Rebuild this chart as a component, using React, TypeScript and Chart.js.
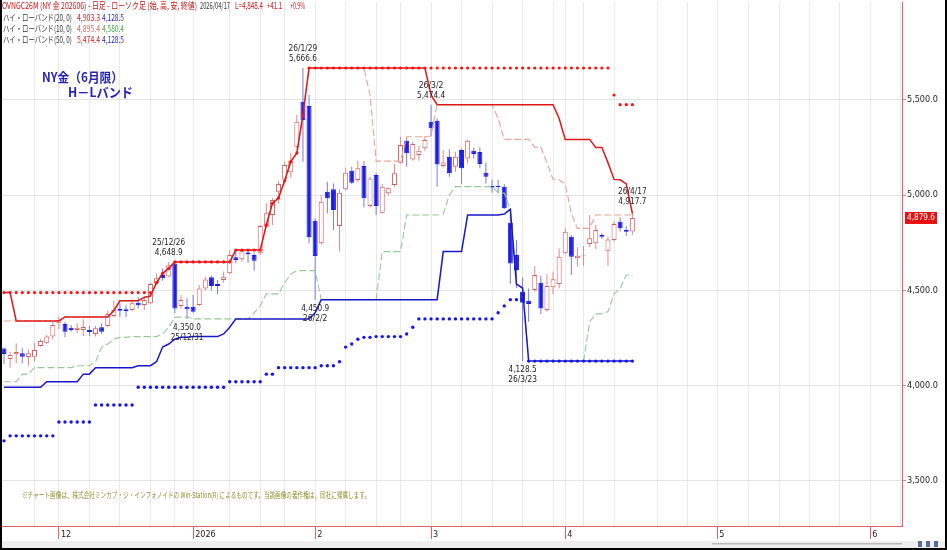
import React, { useEffect, useRef } from 'react';
import { Chart, registerables } from 'chart.js';

Chart.register(...registerables);

// ---------------- data (daily bars, index 0 = 2025/11/17 ... 103 = 2026/04/17) ----------------
const openP = [
  4195, 4140, 4164, 4169, 4150, 4151, 4208, 4225, 4257, 4327,
  4323, 4304, 4292, 4292, 4292, 4271, 4306, 4313, 4365, 4403,
  4400, 4397, 4435, 4423, 4432, 4537, 4580, 4572, 4640, 4418,
  4414, 4414, 4423, 4510, 4568, 4533, 4554, 4589, 4673, 4663,
  4699, 4685, 4694, 4834, 4895, 5017, 5082, 5120, 5253, 5490,
  5467, 4865, 4747, 5017, 5030, 4837, 5030, 5127, 5079, 5152,
  4942, 5105, 4907, 5009, 5052, 5170, 5285, 5187, 5210, 5245,
  5385, 5390, 5152, 5201, 5149, 5236, 5192, 5232, 5226, 5117,
  5047, 5047, 5044, 4855, 4685, 4493, 4445, 4501, 4540, 4397,
  4516, 4533, 4694, 4781, 4668, 4679, 4743, 4747, 4790, 4708,
  4764, 4860, 4816, 4809,
];
const highP = [
  4200, 4178, 4222, 4196, 4190, 4223, 4244, 4265, 4335, 4360,
  4335, 4318, 4327, 4348, 4313, 4313, 4327, 4393, 4445, 4432,
  4420, 4445, 4463, 4470, 4540, 4589, 4615, 4648.9, 4645, 4475,
  4458, 4475, 4528, 4571, 4577, 4554, 4598, 4711, 4711, 4708,
  4711, 4697, 4843, 4956, 4985, 5075, 5175, 5220, 5420, 5666.6,
  5525, 4878, 5000, 5070, 5061, 5030, 5140, 5149, 5178, 5178,
  5096, 5114, 5058, 5040, 5163, 5306, 5303, 5280, 5257, 5310,
  5474.4, 5402, 5236, 5240, 5227, 5245, 5292, 5250, 5250, 5170,
  5082, 5080, 5058, 4903.3, 4764, 4568, 4510, 4627, 4575, 4585,
  4598, 4720, 4825, 4790, 4726, 4732, 4895.4, 4843, 4800, 4781,
  4860, 4883, 4837, 4917.7,
];
const lowP = [
  4113, 4094, 4119, 4119, 4104, 4125, 4202, 4218, 4243, 4297,
  4253, 4283, 4274, 4260, 4260, 4257, 4271, 4306, 4358, 4361,
  4360, 4390, 4405, 4397, 4428, 4528, 4550, 4568, 4380, 4405,
  4350, 4382, 4418, 4500, 4500, 4481, 4540, 4585, 4642, 4650,
  4645, 4603, 4685, 4825, 4843, 4956, 5061, 5090, 5245, 5175,
  4747, 4450.9, 4738, 4904, 4816, 4703, 5023, 5058, 5070, 4935,
  4935, 4895, 4900, 5000, 5044, 5166, 5149, 5180, 5180, 5232,
  5310, 5044, 5145, 5096, 5122, 5058, 5166, 5192, 5140, 5061,
  5012, 5010, 4925, 4533, 4512, 4128.5, 4335, 4493, 4376, 4388,
  4481, 4510, 4690, 4580.4, 4624, 4627, 4726, 4715, 4770, 4627,
  4755, 4808, 4785, 4790,
];
const closeP = [
  4166, 4160, 4176, 4151, 4170, 4187, 4234, 4257, 4318, 4344,
  4283, 4292, 4304, 4308, 4281, 4301, 4283, 4376, 4397, 4393,
  4390, 4432, 4421, 4449, 4533, 4563, 4563, 4632, 4405, 4449,
  4400, 4388, 4510, 4557, 4523, 4523, 4571, 4685, 4659, 4705,
  4689, 4655, 4837, 4904, 4974, 5058, 5157, 5180, 5385, 5394,
  4778, 4680, 4965, 4983, 4921, 5012, 5117, 5065, 5140, 4983,
  5087, 4942, 5044, 5035, 5114, 5262, 5219, 5268, 5232, 5289,
  5350, 5160, 5171, 5114, 5201, 5140, 5285, 5215, 5163, 5096,
  5040, 5042, 4930, 4640, 4606, 4435, 4428, 4580, 4405, 4523,
  4558, 4676, 4807, 4676, 4681, 4682, 4773, 4816, 4781, 4767,
  4848, 4825, 4807.3, 4879.6,
];

// High-Low band (20, 0)
const hiBand20 = [
  4488, 4488, 4339, 4339, 4339, 4339, 4339, 4339, 4339, 4339,
  4360, 4360, 4360, 4360, 4360, 4360, 4360, 4360, 4393, 4445,
  4445, 4445, 4445, 4463, 4470, 4540, 4589, 4615, 4648.9, 4648.9,
  4648.9, 4648.9, 4648.9, 4648.9, 4648.9, 4648.9, 4648.9, 4648.9, 4711, 4711,
  4711, 4711, 4711, 4843, 4956, 4985, 5075, 5175, 5220, 5420,
  5666.6, 5666.6, 5666.6, 5666.6, 5666.6, 5666.6, 5666.6, 5666.6, 5666.6, 5666.6,
  5666.6, 5666.6, 5666.6, 5666.6, 5666.6, 5666.6, 5666.6, 5666.6, 5666.6, 5666.6,
  5525, 5474.4, 5474.4, 5474.4, 5474.4, 5474.4, 5474.4, 5474.4, 5474.4, 5474.4,
  5474.4, 5474.4, 5474.4, 5474.4, 5474.4, 5474.4, 5474.4, 5474.4, 5474.4, 5474.4,
  5474.4, 5402, 5292, 5292, 5292, 5292, 5292, 5250, 5250, 5170,
  5082, 5080, 5058, 4903.3,
];
const loBand20 = [
  3991, 3991, 3991, 3991, 3991, 3991, 3991, 4020, 4020, 4020,
  4020, 4020, 4020, 4060, 4060, 4094, 4094, 4094, 4094, 4094,
  4094, 4094, 4104, 4104, 4104, 4125, 4202, 4218, 4243, 4253,
  4253, 4257, 4257, 4257, 4257, 4257, 4271, 4306, 4350, 4350,
  4350, 4350, 4350, 4350, 4350, 4350, 4350, 4350, 4350, 4350,
  4350, 4382, 4450.9, 4450.9, 4450.9, 4450.9, 4450.9, 4450.9, 4450.9, 4450.9,
  4450.9, 4450.9, 4450.9, 4450.9, 4450.9, 4450.9, 4450.9, 4450.9, 4450.9, 4450.9,
  4450.9, 4450.9, 4703, 4703, 4703, 4703, 4895, 4895, 4895, 4895,
  4895, 4895, 4900, 4925, 4533, 4512, 4128.5, 4128.5, 4128.5, 4128.5,
  4128.5, 4128.5, 4128.5, 4128.5, 4128.5, 4128.5, 4128.5, 4128.5, 4128.5, 4128.5,
  4128.5, 4128.5, 4128.5, 4128.5,
];
// High-Low band (10, 0)
const hiBand10 = [
  4339, 4339, 4339, 4339, 4339, 4339, 4339, 4339, 4339, 4339,
  4360, 4360, 4360, 4360, 4360, 4360, 4360, 4360, 4393, 4445,
  4445, 4445, 4445, 4463, 4470, 4540, 4589, 4615, 4648.9, 4648.9,
  4648.9, 4648.9, 4648.9, 4648.9, 4648.9, 4648.9, 4648.9, 4648.9, 4711, 4711,
  4711, 4711, 4711, 4843, 4956, 4985, 5075, 5175, 5220, 5420,
  5666.6, 5666.6, 5666.6, 5666.6, 5666.6, 5666.6, 5666.6, 5666.6, 5666.6, 5666.6,
  5525, 5178, 5178, 5178, 5178, 5178, 5306, 5306, 5306, 5306,
  5310, 5474.4, 5474.4, 5474.4, 5474.4, 5474.4, 5474.4, 5474.4, 5474.4, 5474.4,
  5474.4, 5402, 5292, 5292, 5292, 5292, 5292, 5250, 5250, 5170,
  5082, 5080, 5058, 4903.3, 4825, 4825, 4825, 4895.4, 4895.4, 4895.4,
  4895.4, 4895.4, 4895.4, 4895.4,
];
const loBand10 = [
  4020, 4020, 4020, 4060, 4060, 4094, 4094, 4094, 4094, 4094,
  4094, 4094, 4104, 4104, 4104, 4125, 4202, 4218, 4243, 4253,
  4253, 4257, 4257, 4257, 4257, 4257, 4271, 4306, 4358, 4360,
  4360, 4350, 4350, 4350, 4350, 4350, 4350, 4350, 4350, 4350,
  4350, 4382, 4418, 4481, 4481, 4481, 4540, 4585, 4603, 4603,
  4603, 4603, 4450.9, 4450.9, 4450.9, 4450.9, 4450.9, 4450.9, 4450.9, 4450.9,
  4450.9, 4450.9, 4703, 4703, 4703, 4703, 4895, 4895, 4895, 4895,
  4895, 4895, 4900, 5000, 5044, 5044, 5044, 5044, 5044, 5044,
  5044, 5012, 5010, 4925, 4533, 4512, 4128.5, 4128.5, 4128.5, 4128.5,
  4128.5, 4128.5, 4128.5, 4128.5, 4128.5, 4128.5, 4335, 4376, 4376, 4388,
  4481, 4510, 4580.4, 4580.4,
];
// High-Low band (50, 0)
const hiBand50 = [
  4488, 4488, 4488, 4488, 4488, 4488, 4488, 4488, 4488, 4488,
  4488, 4488, 4488, 4488, 4488, 4488, 4488, 4488, 4488, 4488,
  4488, 4488, 4488, 4488, 4488, 4540, 4589, 4615, 4648.9, 4648.9,
  4648.9, 4648.9, 4648.9, 4648.9, 4648.9, 4648.9, 4648.9, 4648.9, 4711, 4711,
  4711, 4711, 4711, 4843, 4956, 4985, 5075, 5175, 5220, 5420,
  5666.6, 5666.6, 5666.6, 5666.6, 5666.6, 5666.6, 5666.6, 5666.6, 5666.6, 5666.6,
  5666.6, 5666.6, 5666.6, 5666.6, 5666.6, 5666.6, 5666.6, 5666.6, 5666.6, 5666.6,
  5666.6, 5666.6, 5666.6, 5666.6, 5666.6, 5666.6, 5666.6, 5666.6, 5666.6, 5666.6,
  5666.6, 5666.6, 5666.6, 5666.6, 5666.6, 5666.6, 5666.6, 5666.6, 5666.6, 5666.6,
  5666.6, 5666.6, 5666.6, 5666.6, 5666.6, 5666.6, 5666.6, 5666.6, 5666.6, 5666.6,
  5525, 5474.4, 5474.4, 5474.4,
];
const loBand50 = [
  3710, 3736, 3736, 3736, 3736, 3736, 3736, 3736, 3736, 3809,
  3809, 3809, 3809, 3809, 3809, 3898, 3898, 3898, 3898, 3898,
  3898, 3898, 3991, 3991, 3991, 3991, 3991, 3991, 3991, 3991,
  3991, 3991, 3991, 3991, 3991, 3991, 3991, 4020, 4020, 4020,
  4020, 4020, 4020, 4060, 4060, 4094, 4094, 4094, 4094, 4094,
  4094, 4094, 4104, 4104, 4104, 4125, 4202, 4218, 4243, 4253,
  4253, 4257, 4257, 4257, 4257, 4257, 4271, 4306, 4350, 4350,
  4350, 4350, 4350, 4350, 4350, 4350, 4350, 4350, 4350, 4350,
  4350, 4382, 4418, 4450.9, 4450.9, 4450.9, 4128.5, 4128.5, 4128.5, 4128.5,
  4128.5, 4128.5, 4128.5, 4128.5, 4128.5, 4128.5, 4128.5, 4128.5, 4128.5, 4128.5,
  4128.5, 4128.5, 4128.5, 4128.5,
];

// axis ticks (x in bar-index units)
const yTicks = [3500, 4000, 4500, 5000, 5500];
const xTickPos = [5, 9, 14, 19, 24, 28, 31, 37, 42, 46, 51, 56, 61, 65, 70, 75, 80, 85, 90, 92, 95, 100,
  107.2, 112.1, 116.9, 122, 127.1, 132, 137, 142, 146.9];
const xTickLabels = ['', '12', '', '', '', '', '2026', '', '', '', '2', '', '', '', '3', '', '', '', '', '4', '', '',
  '', '', '5', '', '', '', '', '6', ''];

// labelled extremes
const annIdx = [27, 49, 70, 103, 30, 51, 85];
const annDate = ['25/12/26', '26/1/29', '26/3/2', '26/4/17', '25/12/31', '26/2/2', '26/3/23'];
const annSide = ['high', 'high', 'high', 'high', 'low', 'low', 'low'];

const lastPrice = 4879.6;

const COND = "'DejaVu Sans Condensed', 'Liberation Sans Narrow', 'DejaVu Sans', sans-serif";
const JP = "'Noto Sans CJK JP', 'Noto Sans', sans-serif";

const fmt = (v: number) =>
  v.toLocaleString('en-US', { minimumFractionDigits: 1, maximumFractionDigits: 1 });

function fitText(ctx: CanvasRenderingContext2D, text: string, x: number, y: number, w: number,
  font: string, color: string, align: 'left' | 'center' = 'left') {
  ctx.save();
  ctx.font = font;
  ctx.fillStyle = color;
  ctx.textBaseline = 'middle';
  ctx.textAlign = 'left';
  const m = ctx.measureText(text).width || 1;
  const s = w / m;
  ctx.translate(align === 'center' ? x - w / 2 : x, y);
  ctx.scale(s, 1);
  ctx.fillText(text, 0, 0);
  ctx.restore();
}

const decor = {
  id: 'decor',
  beforeDraw(chart: any) {
    const ctx = chart.ctx;
    ctx.save();
    ctx.fillStyle = '#ffffff';
    ctx.fillRect(0, 0, chart.width, chart.height);
    ctx.restore();
  },
  afterDraw(chart: any) {
    const ctx: CanvasRenderingContext2D = chart.ctx;
    const xs = chart.scales.x;
    const ys = chart.scales.y;

    // header legend
    const red = '#cc1111';
    const dark = '#333333';
    const f1 = `9px ${JP}`;
    fitText(ctx, 'OVNGC26M (NY 金 202606) - 日足 - ローソク足 (始, 高, 安, 終値)', 2, 6, 195, f1, red);
    fitText(ctx, '2026/04/17', 200, 6, 30, f1, dark);
    fitText(ctx, 'L=4,848.4', 235, 6, 28, f1, red);
    fitText(ctx, '+41.1', 267, 6, 15, f1, red);
    fitText(ctx, '+0.9%', 290, 6, 15, f1, red);
    const rows: [string, number, number, string, string, number][] = [
      ['ハイ・ローバンド(20, 0)', hiBand20[103], loBand20[103], '#d02020', '#2020c0', 17.5],
      ['ハイ・ローバンド(10, 0)', hiBand10[103], loBand10[103], '#d86a5a', '#4aa04a', 28.5],
      ['ハイ・ローバンド(50, 0)', hiBand50[103], loBand50[103], '#d02020', '#2020c0', 39.5],
    ];
    rows.forEach(([lab, a, b, ca, cb, y]) => {
      fitText(ctx, lab, 3, y, 69, f1, dark);
      fitText(ctx, fmt(a), 77, y, 23, f1, ca);
      fitText(ctx, fmt(b), 102, y, 22, f1, cb);
    });

    // title
    const tf = `bold 13px ${JP}`;
    fitText(ctx, 'NY金（6月限）', 42, 77, 81, tf, '#2323b8');
    fitText(ctx, 'H－Lバンド', 68, 92, 65, tf, '#2323b8');

    // extreme annotations
    const af = `9px ${COND}`;
    annIdx.forEach((i, n) => {
      const cx = xs.getPixelForValue(i);
      if (annSide[n] === 'high') {
        const py = ys.getPixelForValue(highP[i]);
        fitText(ctx, annDate[n], cx, py - 19, annDate[n].length * 4.1, af, '#222', 'center');
        fitText(ctx, fmt(highP[i]), cx, py - 9, 28, af, '#222', 'center');
      } else {
        const py = ys.getPixelForValue(lowP[i]);
        fitText(ctx, fmt(lowP[i]), cx, py + 9, 28, af, '#222', 'center');
        fitText(ctx, annDate[n], cx, py + 19, annDate[n].length * 4.1, af, '#222', 'center');
      }
    });

    // copyright note
    fitText(ctx, '※チャート画像は、株式会社ミンカブ・ジ・インフォノイドの Win-Station(R) によるものです。当該画像の著作権は、同社に帰属します。',
      22, 495, 348, `8px ${JP}`, '#8d8d2c');

    // last price box
    const ly = ys.getPixelForValue(lastPrice);
    ctx.save();
    ctx.fillStyle = '#e81010';
    ctx.fillRect(905, ly - 6, 32, 12);
    ctx.restore();
    fitText(ctx, fmt(lastPrice), 907, ly, 28, `9px ${COND}`, '#ffffff');

    // bottom strip + frame
    ctx.save();
    ctx.fillStyle = '#eeeeee';
    ctx.fillRect(2, 541, 943, 7);
    ctx.fillStyle = '#b8b8b8';
    ctx.fillRect(712, 543, 190, 1.5);
    ctx.fillStyle = '#5a6a9a';
    ctx.fillRect(918, 541, 4, 6);
    ctx.fillRect(926, 541, 4, 6);
    ctx.fillRect(934, 541, 4, 6);
    ctx.fillStyle = '#000000';
    ctx.fillRect(0, 0, 2, 550);
    ctx.fillRect(945, 0, 2, 550);
    ctx.fillRect(0, 548, 947, 2);
    ctx.restore();
  },
};

export default function App() {
  const ref = useRef<HTMLCanvasElement>(null);

  useEffect(() => {
    const idx = openP.map((_, i) => i);
    const up = idx.map((i) => closeP[i] >= openP[i]);
    const pts = (arr: number[]) => arr.map((v, i) => ({ x: i, y: v }));

    const chart = new Chart(ref.current as HTMLCanvasElement, {
      type: 'line',
      data: {
        datasets: [
          {
            type: 'scatter' as any,
            label: 'HL50 high',
            data: pts(hiBand50),
            showLine: false,
            pointRadius: 1.6,
            pointBackgroundColor: '#ff1010',
            pointBorderWidth: 0,
            order: 0,
          },
          {
            type: 'scatter' as any,
            label: 'HL50 low',
            data: pts(loBand50),
            showLine: false,
            pointRadius: 1.7,
            pointBackgroundColor: '#1515ee',
            pointBorderWidth: 0,
            order: 0,
          },
          {
            type: 'line',
            label: 'HL20 high',
            data: pts(hiBand20),
            borderColor: '#e01818',
            borderWidth: 1.5,
            pointRadius: 0,
            tension: 0,
            order: 1,
          },
          {
            type: 'line',
            label: 'HL20 low',
            data: pts(loBand20),
            borderColor: '#1818c8',
            borderWidth: 1.5,
            pointRadius: 0,
            tension: 0,
            order: 1,
          },
          {
            type: 'line',
            label: 'HL10 high',
            data: pts(hiBand10),
            borderColor: '#eaa496',
            borderWidth: 1.1,
            borderDash: [7, 3],
            pointRadius: 0,
            tension: 0,
            order: 2,
          },
          {
            type: 'line',
            label: 'HL10 low',
            data: pts(loBand10),
            borderColor: '#92cc92',
            borderWidth: 1.1,
            borderDash: [7, 3],
            pointRadius: 0,
            tension: 0,
            order: 2,
          },
          {
            type: 'bar',
            label: 'body',
            data: idx.map((i) => ({ x: i, y: [openP[i], closeP[i]] })) as any,
            backgroundColor: idx.map((i) => (up[i] ? '#ffffff' : '#1e1ee8')),
            borderColor: idx.map((i) => (up[i] ? '#d65f5f' : '#1e1ee8')),
            borderWidth: 1,
            borderSkipped: false,
            barThickness: 5,
            grouped: false,
            inflateAmount: 0,
            order: 3,
          } as any,
          {
            type: 'bar',
            label: 'wick',
            data: idx.map((i) => ({ x: i, y: [lowP[i], highP[i]] })) as any,
            backgroundColor: idx.map((i) => (up[i] ? '#e08a8a' : '#7a7ae0')),
            borderWidth: 0,
            barThickness: 1,
            grouped: false,
            inflateAmount: 0,
            order: 4,
          } as any,
        ],
      },
      options: {
        responsive: false,
        animation: false,
        devicePixelRatio: 1,
        events: [],
        layout: { padding: { left: 2, top: 2, right: 0, bottom: 0 }, autoPadding: false } as any,
        plugins: {
          legend: { display: false },
          tooltip: { enabled: false },
        },
        scales: {
          x: {
            type: 'linear',
            position: 'bottom',
            min: -0.33,
            max: 147.2,
            offset: false,
            afterBuildTicks: (s: any) => {
              s.ticks = xTickPos.map((v) => ({ value: v }));
            },
            afterFit: (s: any) => {
              s.height = 24;
              s.paddingLeft = 0;
              s.paddingRight = 0;
            },
            ticks: {
              autoSkip: false,
              maxRotation: 0,
              minRotation: 0,
              align: 'start',
              labelOffset: 2,
              padding: -10,
              color: '#222',
              font: { family: COND, size: 9 },
              callback: (_v: any, i: number) => xTickLabels[i],
            },
            grid: {
              color: '#e9e9e9',
              lineWidth: 1,
              offset: false,
              drawTicks: true,
              tickLength: 13,
              tickColor: (c: any) => (xTickLabels[c.index] ? '#e06060' : 'rgba(0,0,0,0)'),
            },
            border: { color: '#e06060', width: 1 },
          } as any,
          y: {
            type: 'linear',
            position: 'right',
            min: 3263,
            max: 6013,
            afterBuildTicks: (s: any) => {
              s.ticks = yTicks.map((v) => ({ value: v }));
            },
            afterFit: (s: any) => {
              s.width = 45;
              s.paddingTop = 0;
              s.paddingBottom = 0;
            },
            ticks: {
              color: '#222',
              padding: 1,
              font: { family: COND, size: 9 },
              callback: (v: any) => fmt(Number(v)),
            },
            grid: { color: '#e4e4e4', lineWidth: 1, tickLength: 4, tickColor: '#999' },
            border: { color: '#e06060', width: 1 },
          } as any,
        },
      },
      plugins: [decor as any],
    });

    return () => chart.destroy();
  }, []);

  return (
    <div style={{ position: 'absolute', left: 0, top: 0, width: 947, height: 550, background: '#fff' }}>
      <canvas ref={ref} width={947} height={550} style={{ display: 'block' }} />
    </div>
  );
}
